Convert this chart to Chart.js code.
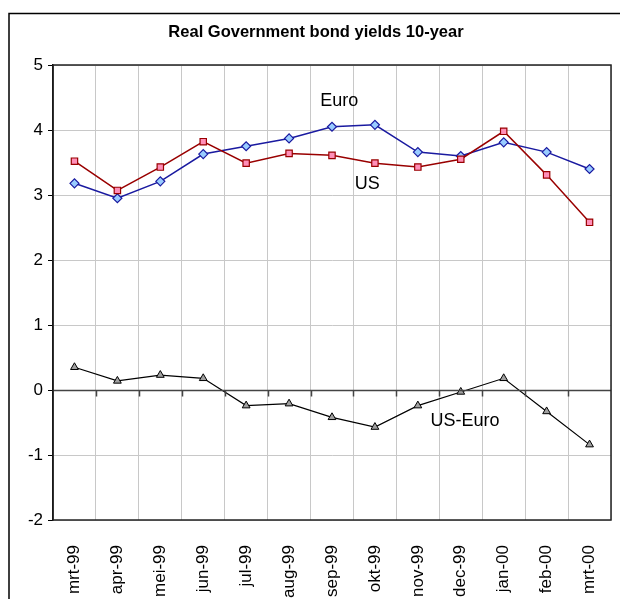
<!DOCTYPE html>
<html>
<head>
<meta charset="utf-8">
<script src="https://cdn.jsdelivr.net/npm/chart.js@4/dist/chart.umd.min.js"></script>
<style>
	body { margin: 0; background: #fff; }
	#wrap { width: 620px; height: 599px; }
</style>
</head>
<body>
<div id="wrap"><canvas id="bond-chart" width="620" height="599"></canvas></div>
<script>
const months = ["mrt-99", "apr-99", "mei-99", "jun-99", "jul-99", "aug-99", "sep-99", "okt-99", "nov-99", "dec-99", "jan-00", "feb-00", "mrt-00"]
const euro = [3.18, 2.95, 3.21, 3.63, 3.75, 3.87, 4.05, 4.08, 3.66, 3.60, 3.81, 3.66, 3.40]
const us = [3.52, 3.07, 3.43, 3.82, 3.49, 3.64, 3.61, 3.49, 3.43, 3.55, 3.98, 3.31, 2.58]
const usEuro = [0.35, 0.14, 0.23, 0.18, -0.24, -0.21, -0.42, -0.57, -0.24, -0.03, 0.18, -0.33, -0.84]
const yTicks = [-2, -1, 0, 1, 2, 3, 4, 5]

// series labels placed in data units (category index, value)
const seriesLabels = [
	{text: "Euro", x: 6.17, y: 4.45},
	{text: "US", x: 6.82, y: 3.17},
	{text: "US-Euro", x: 9.1, y: -0.47}
]

const font = "'Liberation Sans', Arial, sans-serif"

const frame = {
	id: "frame",
	beforeDraw(chart){
		const ctx = chart.ctx
		ctx.save()
		ctx.fillStyle = "#fff"
		ctx.fillRect(0, 0, chart.width, chart.height)
		ctx.strokeStyle = "#000"
		ctx.lineWidth = 1.5
		ctx.strokeRect(9, 13.5, 640, 640)
		ctx.fillStyle = "#000"
		ctx.font = "bold 16.5px " + font
		ctx.textAlign = "center"
		ctx.textBaseline = "middle"
		ctx.fillText("Real Government bond yields 10-year", 316, 32)
		ctx.restore()
	},
	afterDatasetsDraw(chart){
		const ctx = chart.ctx
		const a = chart.chartArea
		const xs = chart.scales.x
		const ys = chart.scales.y
		ctx.save()
		// zero line with tick marks
		const y0 = Math.round(ys.getPixelForValue(0)) + 0.5
		ctx.strokeStyle = "#444"
		ctx.lineWidth = 1.5
		ctx.beginPath()
		ctx.moveTo(a.left, y0)
		ctx.lineTo(a.right, y0)
		for(let i = 1; i < months.length; i++){
			const xb = Math.round((xs.getPixelForValue(i - 1) + xs.getPixelForValue(i)) / 2) + 0.5
			ctx.moveTo(xb, y0)
			ctx.lineTo(xb, y0 + 6)
		}
		ctx.stroke()
		// plot border
		ctx.strokeStyle = "#222"
		ctx.lineWidth = 1.5
		ctx.strokeRect(a.left, a.top, a.right - a.left, a.bottom - a.top)
		// series labels
		ctx.fillStyle = "#000"
		ctx.font = "18px " + font
		ctx.textAlign = "center"
		ctx.textBaseline = "middle"
		seriesLabels.forEach(l => {
			ctx.fillText(l.text, xs.getPixelForValue(l.x), ys.getPixelForValue(l.y))
		})
		ctx.restore()
	}
}

const bondChart = new Chart("bond-chart", {
	type: "line",
	data: {
		labels: months,
		datasets: [{
			label: "US-Euro",
			data: usEuro,
			borderColor: "#000",
			borderWidth: 1.2,
			backgroundColor: "#a0a0a0",
			pointStyle: "triangle",
			pointRadius: 4.5,
			pointBorderWidth: 1,
			pointBorderColor: "#000",
			tension: 0
		}, {
			label: "US",
			data: us,
			borderColor: "#990000",
			borderWidth: 1.5,
			backgroundColor: "#ff8fb8",
			pointStyle: "rect",
			pointRadius: 4.5,
			pointBorderWidth: 1.2,
			pointBorderColor: "#990000",
			tension: 0
		}, {
			label: "Euro",
			data: euro,
			borderColor: "#1a1aa0",
			borderWidth: 1.5,
			backgroundColor: "#99ccff",
			pointStyle: "rectRot",
			pointRadius: 4.5,
			pointBorderWidth: 1.2,
			pointBorderColor: "#1a1aa0",
			tension: 0
		}]
	},
	options: {
		responsive: false,
		animation: false,
		layout: {
			padding: {left: 0, top: 65, right: 9, bottom: 0}
		},
		plugins: {
			legend: {display: false},
			title: {display: false},
			tooltip: {enabled: false}
		},
		scales: {
			x: {
				offset: true,
				grid: {
					offset: true,
					color: "#c8c8c8",
					drawTicks: false
				},
				border: {display: false},
				ticks: {
					color: "#000",
					font: {family: font, size: 17},
					minRotation: 90,
					maxRotation: 90,
					padding: 25,
					autoSkip: false
				},
				afterFit(scale){
					scale.height = 79
					scale.paddingLeft = 0
					scale.paddingRight = 0
				}
			},
			y: {
				min: yTicks[0],
				max: yTicks[yTicks.length - 1],
				afterBuildTicks(scale){
					scale.ticks = yTicks.map(v => ({value: v}))
				},
				grid: {
					color: "#c8c8c8",
					tickColor: "#000",
					tickLength: 5
				},
				border: {color: "#000", width: 1.5},
				ticks: {
					color: "#000",
					font: {family: font, size: 17},
					padding: 5
				},
				afterFit(scale){
					scale.width = 53
					scale.paddingTop = 0
					scale.paddingBottom = 0
				}
			}
		}
	},
	plugins: [frame]
})
</script>
</body>
</html>
